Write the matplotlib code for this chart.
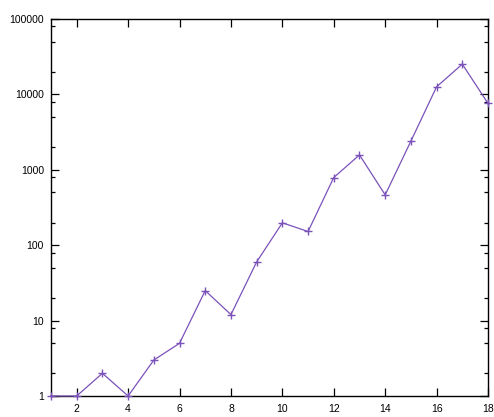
import matplotlib
matplotlib.use("Agg")
import matplotlib.pyplot as plt
from matplotlib.ticker import FixedLocator, NullFormatter, FixedFormatter

# Series values
x_values = list(range(1, 19))
y_values = [1, 1, 2, 1, 3, 5, 25, 12, 60, 198, 152, 790, 1575, 465,
            2400, 12600, 25200, 7600]

x_ticks = [2, 4, 6, 8, 10, 12, 14, 16, 18]
y_ticks = [1, 10, 100, 1000, 10000, 100000]
y_tick_labels = ["1", "10", "100", "1000", "10000", "100000"]

plt.rcParams["font.family"] = ["Liberation Sans", "DejaVu Sans"]

fig = plt.figure(figsize=(4.94, 4.17), dpi=100)
ax = fig.add_axes([51 / 494, 1 - 396 / 417, (488 - 51) / 494, (396 - 19) / 417])

ax.plot(x_values, y_values, color="#7b52ba", linewidth=0.9,
        marker="+", markersize=6, markeredgewidth=1.0, clip_on=False, zorder=3)

ax.set_yscale("log")
ax.set_xlim(1, 18)
ax.set_ylim(1, 100000)

ax.xaxis.set_major_locator(FixedLocator(x_ticks))
ax.xaxis.set_minor_locator(FixedLocator([]))
ax.yaxis.set_major_locator(FixedLocator(y_ticks))
ax.yaxis.set_major_formatter(FixedFormatter(y_tick_labels))
minor = [m * 10 ** d for d in range(5) for m in (2, 5, 8)]
ax.yaxis.set_minor_locator(FixedLocator(minor))
ax.yaxis.set_minor_formatter(NullFormatter())

ax.tick_params(which="both", direction="in", top=True, right=True,
               labelsize=7.5, colors="black", width=0.9)
ax.tick_params(which="major", length=6)
ax.tick_params(which="minor", length=3)
ax.tick_params(axis="y", pad=5)
ax.tick_params(axis="x", pad=6)

for sp in ax.spines.values():
    sp.set_linewidth(1.0)
    sp.set_color("black")

fig.savefig("out.png", dpi=100)
